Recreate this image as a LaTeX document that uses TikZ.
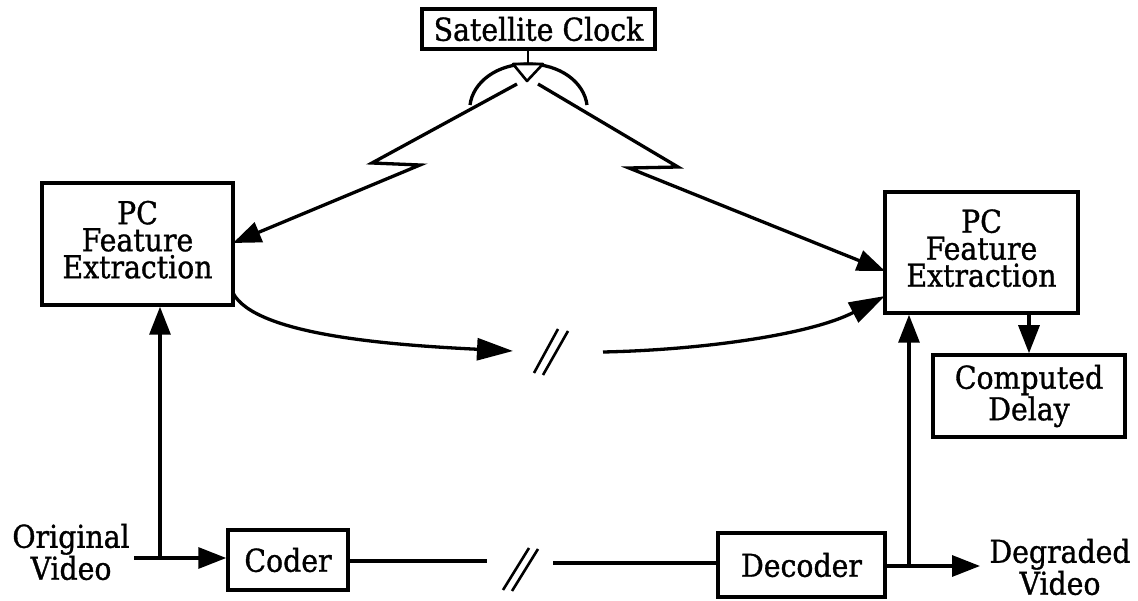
\documentclass[tikz,border=0pt]{standalone}
\usepackage{fontspec}
\setmainfont[FakeBold=1.0]{DejaVu Serif Condensed}
\usetikzlibrary{arrows.meta}
\tikzset{
  x=1pt,y=-1pt,
  conn/.style={line width=3.3pt,line join=miter},
  thin conn/.style={line width=2.6pt},
  arr/.style={conn,-{Triangle[length=36pt,width=22pt]}},
  sarr/.style={conn,-{Triangle[length=28pt,width=21pt]}},
  boxn/.style={draw,line width=3.5pt,align=center,inner sep=0pt,font=\fontsize{31.5}{27}\selectfont},
  lab/.style={align=center,inner sep=0pt,font=\fontsize{31.5}{26}\selectfont},
}
\begin{document}
\begin{tikzpicture}
\useasboundingbox (0,0) rectangle (1138,601);
\fill[white] (0,0) rectangle (1138,601);
\node[boxn,minimum width=233pt,minimum height=40pt] (clock) at (538.5,29) {Satellite Clock};
\node[boxn,text depth=9pt,minimum width=191pt,minimum height=122pt] (pcl) at (137.5,244) {PC\\Feature\\Extraction};
\node[boxn,text depth=9pt,minimum width=193pt,minimum height=121pt] (pcr) at (981.5,252.5) {PC\\Feature\\Extraction};
\node[boxn,minimum width=192pt,minimum height=82pt] (delay) at (1029,396) {Computed\\Delay};
\node[boxn,minimum width=120pt,minimum height=60pt] (coder) at (288,560) {Coder};
\node[boxn,minimum width=167pt,minimum height=64pt] (decoder) at (801.5,565) {Decoder};
\node[lab] (orig) at (71,552) {Original\\Video};
\node[lab,font=\fontsize{31.5}{24}\selectfont] (degr) at (1060,567) {Degraded\\Video};
% clock dish
\coordinate (dl) at (470,105);
\coordinate (dr) at (587,105);
\coordinate (dt) at (528,64);
\coordinate (tl) at (513,64);
\coordinate (tr) at (543,64);
\coordinate (tb) at (527,81);
\draw[thin conn] (clock.south -| dt) -- (dt);
\draw[conn] (dl) .. controls (473,82) and (497,64) .. (dt) .. controls (560,64) and (584,82) .. (dr);
\draw[thin conn,line join=round,fill=white] (tl) -- (tb) -- (tr) -- cycle;
% left link
\coordinate (l1) at (517,84);
\coordinate (l2) at (372,163);
\coordinate (l3) at (420,165);
\coordinate (lt) at (233,243);
\draw[sarr] (l1) -- (l2) -- (l3) -- (lt);
% right link
\coordinate (r1) at (538,84);
\coordinate (r2) at (678,167);
\coordinate (r3) at (629,168);
\coordinate (rt) at (885,271);
\draw[sarr] (r1) -- (r2) -- (r3) -- (rt);
% feature path
\coordinate (fl) at (233,293);
\coordinate (fm) at (513,351);
\coordinate (fr) at (603,352);
\coordinate (frt) at (885,296);
\draw[arr] (fl) .. controls (255,335) and (390,345) .. (fm);
\draw[arr] (fr) .. controls (700,350) and (810,335) .. (frt);
\coordinate (s1a) at (534,373); \coordinate (s1b) at (558,329);
\coordinate (s2a) at (543,375); \coordinate (s2b) at (568,331);
\draw[thin conn] (s1a) -- (s1b);
\draw[thin conn] (s2a) -- (s2b);
% bottom
\coordinate (in) at (134,558);
\coordinate (tapl) at (160,558);
\coordinate (out) at (980,566);
\coordinate (tapr) at (909,566);
\draw[sarr] (in) -- (coder.west |- in);
\draw[sarr] (tapl) -- (pcl.south -| tapl);
\draw[sarr] (tapr) -- (pcr.south -| tapr);
\draw[sarr] (decoder.east |- out) -- (out);
\coordinate (e1) at (487,561);
\coordinate (e2) at (553,563);
\draw[conn] (coder.east |- e1) -- (e1);
\draw[conn] (e2) -- (decoder.west |- e2);
\coordinate (b1a) at (503,590); \coordinate (b1b) at (529,548);
\coordinate (b2a) at (512,591); \coordinate (b2b) at (538,549);
\draw[thin conn] (b1a) -- (b1b);
\draw[thin conn] (b2a) -- (b2b);
\draw[sarr] (pcr.south -| delay.north) -- (delay.north);
\end{tikzpicture}
\end{document}
